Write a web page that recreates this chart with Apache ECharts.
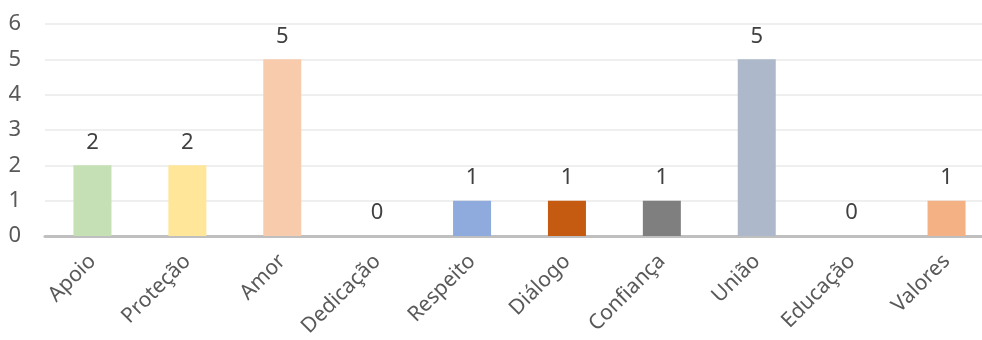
<!DOCTYPE html>
<html>
<head>
<meta charset="utf-8">
<script src="https://cdn.jsdelivr.net/npm/echarts@6/dist/echarts.min.js"></script>
<style>
  html, body { margin: 0; padding: 0; background: #fff; }
  #chart { width: 982px; height: 340px; }
</style>
</head>
<body>
<div id="chart"></div>
<script>
const categories = ['Apoio', 'Proteção', 'Amor', 'Dedicação', 'Respeito', 'Diálogo', 'Confiança', 'União', 'Educação', 'Valores'];
const values = [2, 2, 5, 0, 1, 1, 1, 5, 0, 1];
const barColors = ['#c5e0b4', '#ffe699', '#f8cbad', '#b4c7e7', '#8faadc', '#c55a11', '#7f7f7f', '#adb9ca', '#a9d18e', '#f4b183'];

const chart = echarts.init(document.getElementById('chart'));
const fontFamily = '"Noto Sans", "Open Sans", sans-serif';

const option = {
  animation: false,
  grid: { left: 45, top: 24, width: 949, height: 212, containLabel: false, outerBoundsMode: 'none' },
  xAxis: {
    type: 'category',
    data: categories,
    axisTick: { show: false },
    axisLine: { lineStyle: { color: '#bfbfbf', width: 3 } },
    axisLabel: {
      rotate: 45,
      interval: 0,
      margin: 22,
      color: '#595959',
      fontSize: 21,
      fontFamily: fontFamily
    }
  },
  yAxis: {
    type: 'value',
    min: 0,
    max: 6,
    interval: 1,
    axisLine: { show: false },
    axisTick: { show: false },
    splitLine: { lineStyle: { color: '#efefef', width: 2 } },
    axisLabel: {
      margin: 24,
      color: '#595959',
      fontSize: 22,
      fontFamily: fontFamily
    }
  },
  series: [
    {
      type: 'bar',
      data: values.map((v, i) => ({ value: v, itemStyle: { color: barColors[i] } })),
      barWidth: 38,
      label: {
        show: true,
        position: 'top',
        distance: 12,
        color: '#404040',
        fontSize: 22,
        fontFamily: fontFamily
      }
    }
  ]
};

chart.setOption(option);
</script>
</body>
</html>
